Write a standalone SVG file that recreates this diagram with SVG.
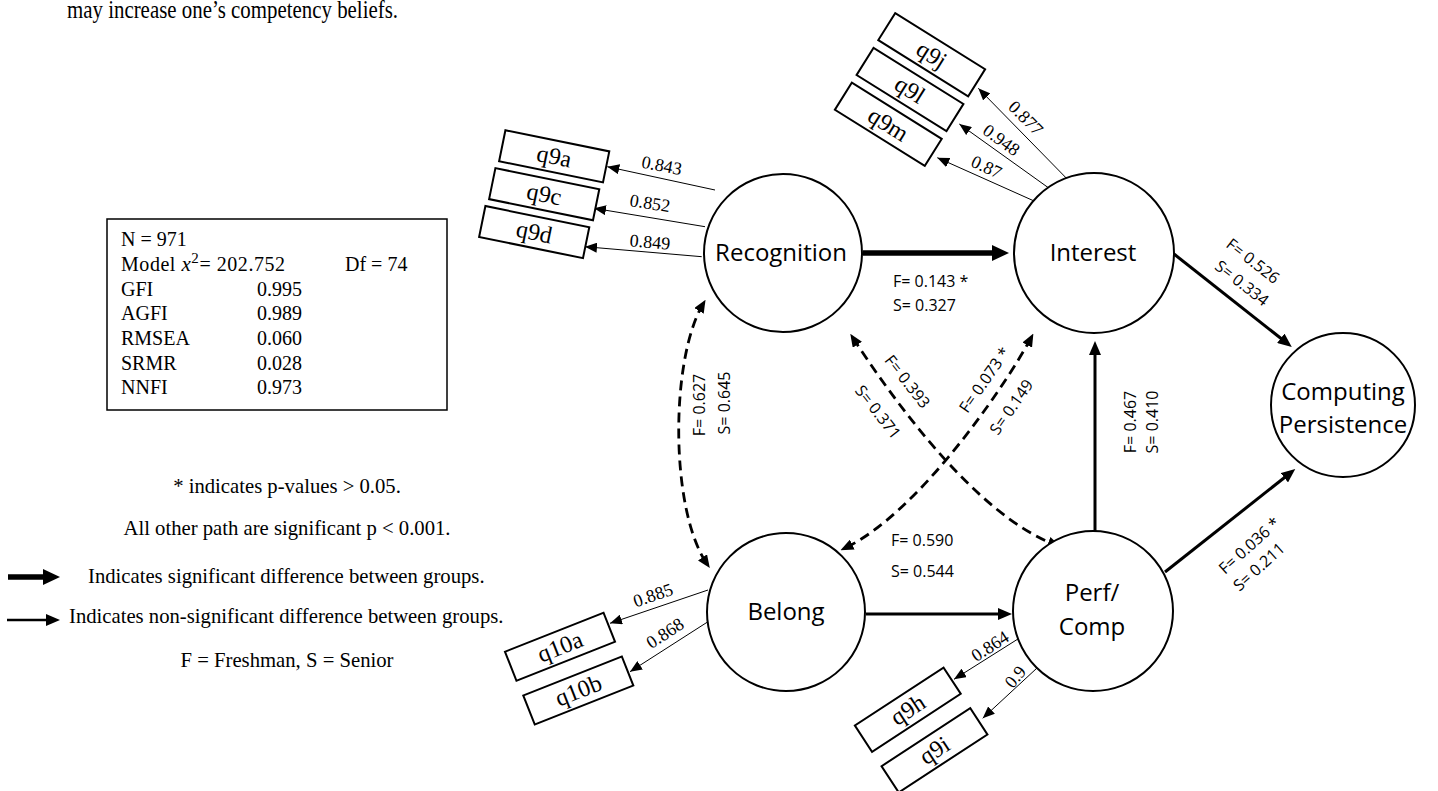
<svg xmlns="http://www.w3.org/2000/svg" width="1438" height="791" viewBox="0 0 1438 791">
<style>
.serif{font-family:"Liberation Serif","Times New Roman",serif;fill:#000}
.node circle{fill:#fff;stroke:#000;stroke-width:2}
.ctext{font-family:"Open Sans","Liberation Sans",Arial,sans-serif;font-size:24px;text-anchor:middle;fill:#000}
.ind rect{fill:#fff;stroke:#000;stroke-width:2}
.ind text{font-family:"Liberation Serif","Times New Roman",serif;font-size:24px;text-anchor:middle;fill:#000}
.thin{stroke:#000;stroke-width:1;fill:none;marker-end:url(#ah-thin)}
.med{stroke:#000;stroke-width:3;fill:none;marker-end:url(#ah-med)}
.thick{stroke:#000;stroke-width:5.5;fill:none;marker-end:url(#ah-thick)}
.dash{stroke:#000;stroke-width:2.8;fill:none;stroke-dasharray:10 6;marker-start:url(#ah-dash);marker-end:url(#ah-dash)}
.lab{font-family:"Open Sans","Liberation Sans",Arial,sans-serif;font-size:16px;fill:#000}
.num{font-family:"Liberation Serif","Times New Roman",serif;font-size:18px;text-anchor:middle;fill:#000}
.stat{font-family:"Liberation Serif","Times New Roman",serif;font-size:20px;fill:#000}
.leg{font-family:"Liberation Serif","Times New Roman",serif;font-size:20.7px;fill:#000}
</style>
<defs>
<marker id="ah-thin" markerUnits="userSpaceOnUse" markerWidth="12" markerHeight="10" viewBox="0 0 12 10" refX="12" refY="5" orient="auto"><path d="M0,0 L12,5 L0,10 z" fill="#000"/></marker>
<marker id="ah-med" markerUnits="userSpaceOnUse" markerWidth="14" markerHeight="12" viewBox="0 0 14 12" refX="6" refY="6" orient="auto"><path d="M0,0 L14,6 L0,12 z" fill="#000"/></marker>
<marker id="ah-thick" markerUnits="userSpaceOnUse" markerWidth="17" markerHeight="16" viewBox="0 0 17 16" refX="8" refY="8" orient="auto"><path d="M0,0 L17,8 L0,16 z" fill="#000"/></marker>
<marker id="ah-dash" markerUnits="userSpaceOnUse" markerWidth="13" markerHeight="11" viewBox="0 0 13 11" refX="8" refY="5.5" orient="auto-start-reverse"><path d="M0,0 L13,5.5 L0,11 z" fill="#000"/></marker>
</defs>
<rect width="1438" height="791" fill="#fff"/>

<text class="serif" x="67" y="18" font-size="26" textLength="331" lengthAdjust="spacingAndGlyphs">may increase one’s competency beliefs.</text>

<g id="stats">
<rect x="107" y="219" width="340" height="191" fill="#fff" stroke="#000" stroke-width="1.5"/>
<text class="stat" x="121" y="246">N = 971</text>
<text class="stat" x="121" y="271" textLength="164">Model <tspan font-style="italic" font-size="21">x</tspan><tspan dy="-8" font-size="15">2</tspan><tspan dy="8">= 202.752</tspan></text>
<text class="stat" x="345" y="271">Df = 74</text>
<text class="stat" x="121" y="296">GFI</text><text class="stat" x="257" y="296">0.995</text>
<text class="stat" x="121" y="320">AGFI</text><text class="stat" x="257" y="320">0.989</text>
<text class="stat" x="121" y="345">RMSEA</text><text class="stat" x="257" y="345">0.060</text>
<text class="stat" x="121" y="370">SRMR</text><text class="stat" x="257" y="370">0.028</text>
<text class="stat" x="121" y="394">NNFI</text><text class="stat" x="257" y="394">0.973</text>
</g>

<g id="legend">
<text class="leg" x="287" y="493" text-anchor="middle">* indicates p-values &gt; 0.05.</text>
<text class="leg" x="287" y="535" text-anchor="middle">All other path are significant p &lt; 0.001.</text>
<path class="thick" d="M8,577 H51"/>
<text class="leg" x="88" y="583">Indicates significant difference between groups.</text>
<path class="med" d="M7,620 H52" style="stroke-width:2.5"/>
<text class="leg" x="69" y="623">Indicates non-significant difference between groups.</text>
<text class="leg" x="287" y="667" text-anchor="middle">F = Freshman, S = Senior</text>
</g>

<g id="connectors">
<path class="thick" d="M863,253 H1000"/>
<path class="med" d="M866,614 H1004"/>
<path class="med" d="M1095,531 V349"/>
<path class="med" d="M1174,254 L1285.5,342"/>
<path class="med" d="M1165,572 L1289,474"/>
<path class="dash" d="M703,304 C670,360 670,510 707,564"/>
<path class="dash" d="M853,338 C890,395 975,515 1056,545"/>
<path class="dash" d="M1031,338 C1000,395 915,515 845,548"/>
<path class="thin" d="M715,190 L607.3,166.7"/>
<path class="thin" d="M705,226.7 L594,208.3"/>
<path class="thin" d="M701.7,256.7 L585,246.7"/>
<path class="thin" d="M1066.5,178.3 L978.3,88.3"/>
<path class="thin" d="M1048.6,187.9 L959.3,124"/>
<path class="thin" d="M1034.3,201.1 L937.3,157.7"/>
<path class="thin" d="M708,590 L610,623.3"/>
<path class="thin" d="M713.3,618.3 L630,671.7"/>
<path class="thin" d="M1033.3,629.3 L954,679.3"/>
<path class="thin" d="M1058.3,648.3 L982.7,718.3"/>
</g>

<g id="edge-labels">
<text class="lab" x="893" y="287">F= 0.143 *</text>
<text class="lab" x="893" y="311">S= 0.327</text>
<text class="lab" x="891" y="546">F= 0.590</text>
<text class="lab" x="891" y="577">S= 0.544</text>
<text class="lab" text-anchor="middle" transform="translate(705,405) rotate(-90)">F= 0.627</text>
<text class="lab" text-anchor="middle" transform="translate(730,403) rotate(-90)">S= 0.645</text>
<text class="lab" text-anchor="middle" transform="translate(1136,422) rotate(-90)">F= 0.467</text>
<text class="lab" text-anchor="middle" transform="translate(1158,422) rotate(-90)">S= 0.410</text>
<text class="lab" text-anchor="middle" transform="translate(1249.5,265.5) rotate(38)">F= 0.526</text>
<text class="lab" text-anchor="middle" transform="translate(1238.5,287.5) rotate(38)">S= 0.334</text>
<text class="lab" transform="translate(1225,575) rotate(-42)">F= 0.036 *</text>
<text class="lab" text-anchor="middle" transform="translate(1262.8,571) rotate(-42)">S= 0.211</text>
<text class="lab" text-anchor="middle" transform="translate(903,385) rotate(52)">F= 0.393</text>
<text class="lab" text-anchor="middle" transform="translate(873.5,415.5) rotate(52)">S= 0.371</text>
<text class="lab" transform="translate(967.6,414.1) rotate(-55)">F= 0.073 *</text>
<text class="lab" text-anchor="middle" transform="translate(1016,410.3) rotate(-55)">S= 0.149</text>
<text class="num" transform="translate(660.6,171.3) rotate(11)">0.843</text>
<text class="num" transform="translate(649.1,209.1) rotate(9)">0.852</text>
<text class="num" transform="translate(649.5,248.1) rotate(5)">0.849</text>
<text class="num" transform="translate(1021.6,122.4) rotate(45)">0.877</text>
<text class="num" transform="translate(998,145) rotate(36)">0.948</text>
<text class="num" transform="translate(984,172.5) rotate(25)">0.87</text>
<text class="num" transform="translate(655,600.8) rotate(-19)">0.885</text>
<text class="num" transform="translate(668.3,638.2) rotate(-33)">0.868</text>
<text class="num" transform="translate(993.3,651.2) rotate(-33)">0.864</text>
<text class="num" transform="translate(1019.9,680.7) rotate(-50)">0.9</text>
</g>

<g id="recognition" class="node"><circle cx="783" cy="253" r="79"/><text class="ctext" x="781" y="261">Recognition</text></g>
<g id="interest" class="node"><circle cx="1094" cy="253" r="80"/><text class="ctext" x="1093" y="261">Interest</text></g>
<g id="belong" class="node"><circle cx="786" cy="612" r="79"/><text class="ctext" x="786" y="620">Belong</text></g>
<g id="perfcomp" class="node"><circle cx="1093" cy="611" r="80"/><text class="ctext" x="1092" y="601">Perf/</text><text class="ctext" x="1092" y="635">Comp</text></g>
<g id="persistence" class="node"><circle cx="1343" cy="405" r="72"/><text class="ctext" x="1343" y="400">Computing</text><text class="ctext" x="1343" y="433">Persistence</text></g>

<g id="q9a" class="ind" transform="translate(554.2,156.3) rotate(11.5)"><rect x="-53" y="-15.8" width="106" height="31.6"/><text y="8">q9a</text></g>
<g id="q9c" class="ind" transform="translate(544.2,194.2) rotate(11.5)"><rect x="-53" y="-15.8" width="106" height="31.6"/><text y="8">q9c</text></g>
<g id="q9d" class="ind" transform="translate(534.2,232.1) rotate(11.5)"><rect x="-53" y="-15.8" width="106" height="31.6"/><text y="8">q9d</text></g>
<g id="q9j" class="ind" transform="translate(931.7,54.7) rotate(32)"><rect x="-53" y="-16" width="106" height="32"/><text y="8">q9j</text></g>
<g id="q9l" class="ind" transform="translate(910,89.5) rotate(32)"><rect x="-53" y="-16" width="106" height="32"/><text y="8">q9l</text></g>
<g id="q9m" class="ind" transform="translate(888.3,124.3) rotate(32)"><rect x="-53" y="-16" width="106" height="32"/><text y="8">q9m</text></g>
<g id="q10a" class="ind" transform="translate(560,646.7) rotate(-21.6)"><rect x="-53" y="-15.6" width="106" height="31.2"/><text y="8">q10a</text></g>
<g id="q10b" class="ind" transform="translate(578.3,690.5) rotate(-21.6)"><rect x="-53" y="-15.6" width="106" height="31.2"/><text y="8">q10b</text></g>
<g id="q9h" class="ind" transform="translate(907.8,709.7) rotate(-33.2)"><rect x="-53" y="-15.7" width="106" height="31.4"/><text y="8">q9h</text></g>
<g id="q9i" class="ind" transform="translate(934.5,750.3) rotate(-33.2)"><rect x="-53" y="-15.7" width="106" height="31.4"/><text y="8">q9i</text></g>
</svg>
